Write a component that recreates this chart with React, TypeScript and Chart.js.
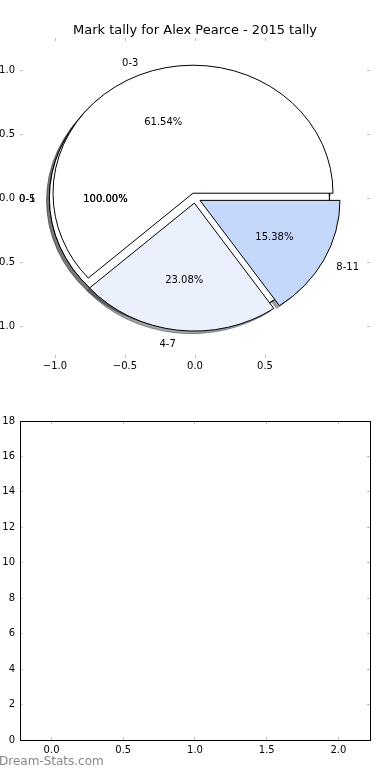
import React, { useEffect, useRef } from "react";
import { Chart, registerables } from "chart.js";

Chart.register(...registerables);

// ---- data ----
const chartTitle = "Mark tally for Alex Pearce - 2015 tally";
const categories = ["0-3", "4-7", "8-11"];
const tallies = [8, 3, 2];
const sliceColors = ["#ffffff", "#eaf1fd", "#c4d8fc"];
const explode = [0.04, 0.04, 0.04];
// two extra single-category pies (each 100%) drawn underneath
const fullPieLabels = ["0-1", "0-5"];
const fullPieTallies = [1, 1];
const fullPieExplode = [0.04];

const pieXTicks = [-1.0, -0.5, 0.0, 0.5];
const pieYTicks = [-1.0, -0.5, 0.0, 0.5, 1.0];
const pieLimits = [-1.25, 1.25];

const barXTicks = [0.0, 0.5, 1.0, 1.5, 2.0];
const barYTicks = [0, 2, 4, 6, 8, 10, 12, 14, 16, 18];
const barXLimits = [-0.22, 2.22];
const barYLimits = [0, 18];

const watermark = "Dream-Stats.com";

// ---- helpers ----
const FONT = "'DejaVu Sans', 'Liberation Sans', sans-serif";
const TICK_GRAY = "#bdbdbd";
const D2R = Math.PI / 180;

const fmt1 = (v: number) => (v < 0 ? "\u2212" : "") + Math.abs(v).toFixed(1);

type Wedge = {
  cx: number; cy: number; t1: number; t2: number; mid: number; full: boolean;
  color: string; label: string; pct: string;
};

function buildPie(labels: string[], values: number[], colors: string[], expl: number[]): Wedge[] {
  const total = values.reduce((a, b) => a + b, 0);
  let theta1 = 0;
  return values.map((v, i) => {
    const theta2 = theta1 + (360 * v) / total;
    const mid = ((theta1 + theta2) / 2) * D2R;
    const e = expl[i % expl.length];
    const w: Wedge = {
      cx: e * Math.cos(mid),
      cy: e * Math.sin(mid),
      t1: theta1,
      t2: theta2,
      mid,
      full: Math.abs(theta2 - theta1 - 360) < 1e-9,
      color: colors[i % colors.length],
      label: labels[i],
      pct: ((100 * v) / total).toFixed(2) + "%",
    };
    theta1 = theta2;
    return w;
  });
}

function shadowColor(hex: string) {
  const n = parseInt(hex.slice(1), 16);
  const r = Math.round(((n >> 16) & 255) * 0.3);
  const g = Math.round(((n >> 8) & 255) * 0.3);
  const b = Math.round((n & 255) * 0.3);
  return `rgba(${r},${g},${b},0.5)`;
}

const piePlugin = {
  id: "pieWedges",
  afterDatasetsDraw(chart: any) {
    const { ctx } = chart;
    const xs = chart.scales.x;
    const ys = chart.scales.y;
    const px = (v: number) => xs.getPixelForValue(v);
    const py = (v: number) => ys.getPixelForValue(v);
    const rx = px(1) - px(0);
    const ry = py(0) - py(1);

    const pies: Wedge[][] = [];
    fullPieLabels.forEach((lab, i) => {
      pies.push(buildPie([lab], [fullPieTallies[i]], sliceColors, fullPieExplode));
    });
    pies.push(buildPie(categories, tallies, sliceColors, explode));
    const all = pies.flat();

    const path = (w: Wedge, ox: number, oy: number) => {
      const cxp = px(w.cx + ox);
      const cyp = py(w.cy + oy);
      ctx.beginPath();
      if (w.full) {
        ctx.ellipse(cxp, cyp, rx, ry, 0, 0, 2 * Math.PI);
      } else {
        ctx.moveTo(cxp, cyp);
        ctx.ellipse(cxp, cyp, rx, ry, 0, -w.t1 * D2R, -w.t2 * D2R, true);
        ctx.closePath();
      }
    };

    ctx.save();
    // shadows first
    for (const w of all) {
      path(w, -0.02, -0.02);
      ctx.fillStyle = shadowColor(w.color);
      ctx.strokeStyle = shadowColor(w.color);
      ctx.lineWidth = 1;
      ctx.fill();
      ctx.stroke();
    }
    // wedges
    for (const w of all) {
      path(w, 0, 0);
      ctx.fillStyle = w.color;
      ctx.fill();
      ctx.strokeStyle = "#000";
      ctx.lineWidth = 1;
      ctx.lineJoin = "miter";
      ctx.stroke();
    }
    // texts (matplotlib centres the full text box incl. descent)
    const textDrop = 1.5;
    ctx.fillStyle = "#000";
    ctx.font = `10px ${FONT}`;
    ctx.textBaseline = "middle";
    for (const w of all) {
      const lx = w.cx + 1.1 * Math.cos(w.mid);
      const ly = w.cy + 1.1 * Math.sin(w.mid);
      ctx.textAlign = lx > 0 ? "left" : "right";
      ctx.fillText(w.label, px(lx), py(ly) + textDrop);
      const tx = w.cx + 0.6 * Math.cos(w.mid);
      const ty = w.cy + 0.6 * Math.sin(w.mid);
      ctx.textAlign = "center";
      ctx.fillText(w.pct, px(tx), py(ty) + textDrop);
    }
    ctx.restore();
  },
};

const tickFont = { family: FONT, size: 10, weight: "normal" as const };

function axis(opts: {
  axisId: "x" | "y"; position: string; min: number; max: number; ticks: number[];
  size: number; labels: boolean; padding: number; fmt: (v: number) => string; border: boolean;
}) {
  const horizontal = opts.axisId === "x";
  return {
    type: "linear",
    axis: opts.axisId,
    position: opts.position,
    min: opts.min,
    max: opts.max,
    afterBuildTicks: (s: any) => {
      s.ticks = opts.ticks.map((v) => ({ value: v }));
    },
    afterFit: (s: any) => {
      if (horizontal) s.height = opts.size;
      else s.width = opts.size;
    },
    grid: {
      display: true,
      drawOnChartArea: false,
      drawTicks: true,
      tickLength: -3,
      color: TICK_GRAY,
      tickColor: TICK_GRAY,
      lineWidth: 1,
    },
    border: { display: opts.border, color: "#000", width: 1 },
    ticks: {
      display: opts.labels,
      padding: opts.padding,
      color: "#000",
      font: tickFont,
      autoSkip: false,
      maxRotation: 0,
      minRotation: 0,
      callback: (v: any) => opts.fmt(Number(v)),
    },
  };
}

export default function App() {
  const topRef = useRef<HTMLCanvasElement>(null);
  const botRef = useRef<HTMLCanvasElement>(null);

  useEffect(() => {
    const top = new Chart(topRef.current as HTMLCanvasElement, {
      type: "scatter",
      data: { datasets: [] },
      options: {
        animation: false,
        responsive: false,
        devicePixelRatio: 1,
        events: [],
        layout: { padding: 0 },
        plugins: {
          legend: { display: false },
          tooltip: { enabled: false },
          title: {
            display: true,
            text: chartTitle,
            color: "#000",
            font: { family: FONT, size: 13, weight: "normal" },
            padding: { top: 22.4, bottom: 0 },
          },
        },
        scales: {
          x: axis({ axisId: "x", position: "bottom", min: pieLimits[0], max: pieLimits[1], ticks: pieXTicks, size: 22, labels: true, padding: 5, fmt: fmt1, border: false }),
          x2: axis({ axisId: "x", position: "top", min: pieLimits[0], max: pieLimits[1], ticks: pieXTicks, size: 0, labels: false, padding: 0, fmt: fmt1, border: false }),
          y: axis({ axisId: "y", position: "left", min: pieLimits[0], max: pieLimits[1], ticks: pieYTicks, size: 20, labels: true, padding: 8, fmt: fmt1, border: false }),
          y2: axis({ axisId: "y", position: "right", min: pieLimits[0], max: pieLimits[1], ticks: pieYTicks, size: 20, labels: false, padding: 0, fmt: fmt1, border: false }),
        } as any,
      },
      plugins: [piePlugin],
    } as any);

    const bottom = new Chart(botRef.current as HTMLCanvasElement, {
      type: "scatter",
      data: { datasets: [] },
      options: {
        animation: false,
        responsive: false,
        devicePixelRatio: 1,
        events: [],
        layout: { padding: 0 },
        plugins: { legend: { display: false }, tooltip: { enabled: false } },
        scales: {
          x: axis({ axisId: "x", position: "bottom", min: barXLimits[0], max: barXLimits[1], ticks: barXTicks, size: 40, labels: true, padding: 7, fmt: fmt1, border: true }),
          x2: axis({ axisId: "x", position: "top", min: barXLimits[0], max: barXLimits[1], ticks: barXTicks, size: 21, labels: false, padding: 0, fmt: fmt1, border: true }),
          y: axis({ axisId: "y", position: "left", min: barYLimits[0], max: barYLimits[1], ticks: barYTicks, size: 20, labels: true, padding: 8, fmt: (v) => String(v), border: true }),
          y2: axis({ axisId: "y", position: "right", min: barYLimits[0], max: barYLimits[1], ticks: barYTicks, size: 20, labels: false, padding: 0, fmt: (v) => String(v), border: true }),
        } as any,
      },
    } as any);

    return () => {
      top.destroy();
      bottom.destroy();
    };
  }, []);

  return (
    <div style={{ position: "absolute", left: 0, top: 0, width: 390, height: 780, background: "#fff", overflow: "hidden" }}>
      <canvas ref={topRef} width={390} height={380} style={{ position: "absolute", left: 0, top: 0, width: 390, height: 380 }} />
      <canvas ref={botRef} width={390} height={380} style={{ position: "absolute", left: 0, top: 400, width: 390, height: 380 }} />
      <div style={{ position: "absolute", left: -1, top: 754, font: `12px ${FONT}`, color: "#888888", whiteSpace: "nowrap" }}>{watermark}</div>
    </div>
  );
}
